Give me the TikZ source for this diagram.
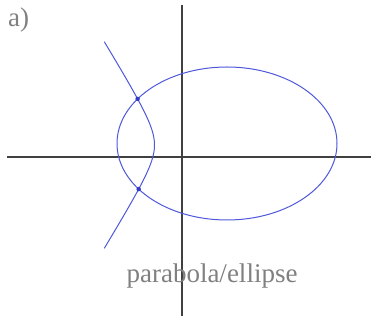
\documentclass[tikz,border=0pt]{standalone}
\usepackage{fontspec}
\setmainfont{Liberation Serif}
\usetikzlibrary{intersections}

\definecolor{curveblue}{RGB}{78,88,218}
\definecolor{dotblue}{RGB}{50,60,200}

\tikzset{
  axisline/.style={line width=1.3pt, draw=black!75},
  curveline/.style={line width=1pt, draw=curveblue},
  meetdot/.style={circle, fill=dotblue, inner sep=0pt, minimum size=4.5pt},
  caption/.style={text=black!50, font=\fontsize{27}{30}\selectfont}
}

\begin{document}
\begin{tikzpicture}[x=1pt, y=1pt]
        \useasboundingbox (-182,-163) rectangle (189,157);

        % Axes
        \coordinate (W) at (-175,0);
        \coordinate (E) at (189,0);
        \coordinate (N) at (0,152);
        \coordinate (S) at (0,-159);
        \draw[axisline] (W) -- (E);
        \draw[axisline] (N) -- (S);

        % Ellipse
        \coordinate (O) at (45,13.5);
        \draw[curveline, name path=ell] (O) ellipse [x radius=110, y radius=76.5];

        % Left-opening curve
        \draw[curveline, name path=par] plot[domain=-91.3:115.3, samples=100, variable=\t]
            ({-11.8-sqrt(246.5+0.3844*(\t-12)*(\t-12))}, \t);

        % Meeting points
        \path[name intersections={of=ell and par, name=P}];
        \node[meetdot] (P1) at (P-1) {};
        \node[meetdot] (P2) at (P-2) {};

        % Labels
        \node[caption, anchor=north west, inner sep=0pt] (tag) at (-174,149) {a)};
        \node[caption] (name) at (30,-119) {parabola/ellipse};
    \end{tikzpicture}
\end{document}
